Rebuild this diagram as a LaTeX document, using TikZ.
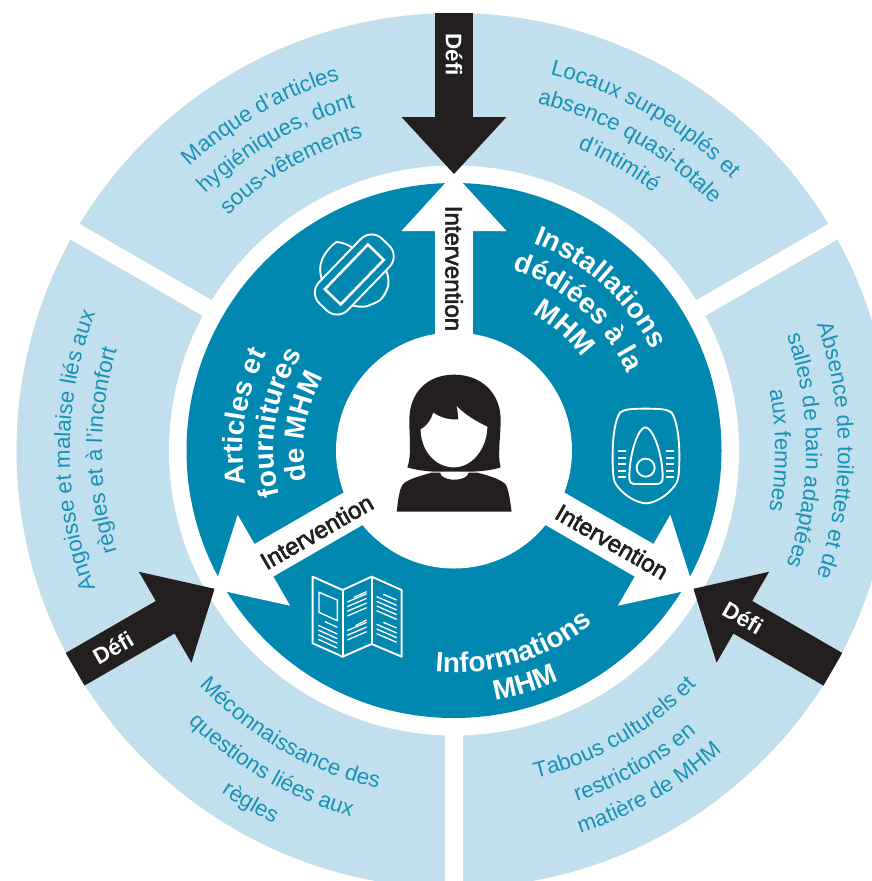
\documentclass[tikz,border=0pt]{standalone}
\usepackage{fontspec}
\setmainfont{Liberation Sans}
\newfontfamily\medfont[FakeBold=2.5]{Liberation Sans}
\usetikzlibrary{decorations.text}
\definecolor{lightring}{HTML}{C1DFEC}
\definecolor{tealb}{HTML}{0088B1}
\definecolor{inkb}{HTML}{231F20}
\newcommand\ringfont{\fontsize{22.3}{26}\selectfont\color{tealb!88!lightring}}
\newcommand\secfont{\fontsize{28}{32}\selectfont\bfseries\color{white}}
% clockwise text (tops outward): centre angle, radius, format, text
\newcommand\cwtext[4]{\path[shift={(C)},decorate,decoration={text along path,text align=center,text={|#3|#4}}] ({#1+80}:#2pt) arc[start angle={#1+80},end angle={#1-80},radius=#2pt];}
% counter-clockwise text (tops inward)
\newcommand\ccwtext[4]{\path[shift={(C)},decorate,decoration={text along path,text align=center,text={|#3|#4}}] ({#1-80}:#2pt) arc[start angle={#1-80},end angle={#1+80},radius=#2pt];}
\tikzset{
  darkarrow/.style={fill=inkb,draw=none},
  whitearrow/.style={fill=white,draw=none},
  gapband/.style={draw=white,line width=18pt},
  defilabel/.style={text=white,font=\fontsize{22.5}{26}\selectfont\bfseries,inner sep=0pt},
  intlabel/.style={text=inkb,font=\fontsize{24}{26}\selectfont\medfont,inner sep=0pt},
  iconline/.style={draw=white,line width=1.9pt,line join=round,line cap=round,fill=none},
  thinline/.style={draw=white,line width=1.3pt,line cap=butt},
}
\begin{document}
\begin{tikzpicture}[x=1pt,y=1pt]
\useasboundingbox (0,0) rectangle (872,-881);
\clip (0,0) rectangle (872,-881);
\coordinate (C) at (454,-450.5);
% rings
\fill[lightring] (C) circle[radius=437.5pt];
\foreach \a in {30,150,270} \draw[gapband] (C) -- ++(\a:460pt);
\fill[white] (C) circle[radius=285pt];
\fill[tealb] (C) circle[radius=267.5pt];
% white arrows
\foreach \a in {0,120,-120}
  \fill[whitearrow,shift={(C)},rotate=\a] (-18.8,100) -- (-18.8,219.5) -- (-52.5,219.5) -- (0,277) -- (52.5,219.5) -- (18.8,219.5) -- (18.8,100) -- cycle;
\fill[white] (C) circle[radius=118pt];
% dark arrows
\foreach \a in {0,120,-120}
  \fill[darkarrow,shift={(C)},rotate=\a] (-18.8,437.5) -- (-18.8,333.5) -- (-52.5,333.5) -- (0,276.5) -- (52.5,333.5) -- (18.8,333.5) -- (18.8,437.5) -- cycle;
% labels on arrows
\node[defilabel,rotate=-90] (d1) at (454,-54.5) {Défi};
\node[defilabel,rotate=30] (d2) at (113,-648) {Défi};
\node[defilabel,rotate=-30] (d3) at (743,-618) {Défi};
\node[intlabel,rotate=-90] (i1) at (454,-268.5) {Intervention};
\node[intlabel,rotate=30] (i2) at (316.7,-531.7) {Intervention};
\node[intlabel,rotate=-30] (i3) at (612,-541.7) {Intervention};
% ring texts
\cwtext{120}{388}{\ringfont}{Manque d'articles}
\cwtext{120}{357}{\ringfont}{hygiéniques, dont}
\cwtext{120}{326}{\ringfont}{sous-vêtements}
\cwtext{60}{388}{\ringfont}{Locaux surpeuplés et}
\cwtext{60}{357}{\ringfont}{absence quasi-totale}
\cwtext{60}{326}{\ringfont}{d'intimité}
\cwtext{0}{384}{\ringfont}{Absence de toilettes et de}
\cwtext{0}{352}{\ringfont}{salles de bain adaptées}
\cwtext{0}{321}{\ringfont}{aux femmes}
\cwtext{180}{384}{\ringfont}{Angoisse et malaise liés aux}
\cwtext{180}{352}{\ringfont}{règles et à l'inconfort}
\ccwtext{240}{346}{\ringfont}{Méconnaissance des}
\ccwtext{240}{380}{\ringfont}{questions liées aux}
\ccwtext{240}{414}{\ringfont}{règles}
\ccwtext{300}{338}{\ringfont}{Tabous culturels et}
\ccwtext{300}{372}{\ringfont}{restrictions en}
\ccwtext{300}{403}{\ringfont}{matière de MHM}
% sector titles
\cwtext{48}{222}{\secfont}{Installations}
\cwtext{48}{190}{\secfont}{dédiées à la}
\cwtext{48}{158}{\secfont}{MHM}
\cwtext{171}{211}{\secfont}{Articles et}
\cwtext{171}{180}{\secfont}{fournitures}
\cwtext{171}{150}{\secfont}{de MHM}
\ccwtext{287}{222}{\secfont}{Informations}
\ccwtext{287}{253}{\secfont}{MHM}
% pad icon
\begin{scope}[shift={(354.3,-274.5)},rotate=46]
  \draw[iconline,rounded corners=15pt] (-45,-20) rectangle (45,20);
  \draw[draw=white,line width=2.6pt,line join=miter] (-31,-11) rectangle (31,11);
  \draw[iconline] (-26,20) .. controls (-23,26) and (-18,31) .. (-12,33.4) .. controls (-6,36) and (4,37) .. (11,35.4) .. controls (14,32) and (17,26) .. (18,20);
  \draw[iconline] (25,-20) .. controls (22,-27) and (17,-32) .. (13,-33.4) .. controls (7,-36) and (3,-36.5) .. (-1,-36.3) .. controls (-6,-35) and (-10,-33) .. (-14.3,-31) .. controls (-18,-28) and (-21,-25) .. (-23.5,-20);
\end{scope}
% woman icon
\begin{scope}[shift={(370,-370)},x=0.3333pt,y=-0.3333pt]
  \fill[inkb] (112,292) .. controls (125,260) and (118,200) .. (118,150) .. controls (118,70) and (170,14) .. (252,14) .. controls (335,14) and (392,70) .. (392,150) .. controls (392,200) and (382,260) .. (392,292) .. controls (370,300) and (340,303) .. (310,305) -- (190,305) .. controls (165,303) and (135,300) .. (112,292) -- cycle;
  \fill[white] (152,178) .. controls (175,165) and (183,148) .. (190,128) .. controls (215,145) and (240,150) .. (265,148) .. controls (265,135) and (262,120) .. (260,108) .. controls (285,135) and (320,155) .. (352,170) .. controls (352,230) and (310,292) .. (252,292) .. controls (195,292) and (152,240) .. (152,178) -- cycle;
  \fill[inkb] (80,425) .. controls (85,385) and (88,360) .. (97,345) .. controls (110,328) and (150,318) .. (185,308) -- (210,308) .. controls (212,320) and (228,329) .. (252,329) .. controls (278,329) and (294,320) .. (296,308) -- (322,308) .. controls (360,318) and (398,330) .. (408,345) .. controls (416,360) and (420,390) .. (425,425) -- cycle;
\end{scope}
% toilet icon
\begin{scope}[shift={(530,-390)},x=0.3333pt,y=-0.3333pt]
  \draw[iconline] (347,56) .. controls (390,56) and (415,58) .. (425,68) .. controls (440,90) and (448,140) .. (448,195) .. controls (448,230) and (448,260) .. (440,278) .. controls (425,305) and (385,338) .. (348,340) .. controls (310,338) and (270,305) .. (255,278) .. controls (248,260) and (248,230) .. (248,195) .. controls (248,140) and (255,90) .. (270,68) .. controls (280,58) and (305,56) .. (347,56) -- cycle;
  \draw[iconline] (346,112) .. controls (325,112) and (298,190) .. (298,262) .. controls (298,278) and (305,282) .. (315,282) -- (380,282) .. controls (392,282) and (398,276) .. (398,262) .. controls (398,190) and (368,112) .. (346,112) -- cycle;
  \draw[iconline] (347,233) circle[radius=9pt];
  \foreach \y in {183,203,222,242,262} {
    \draw[thinline,line width=2pt] (263,\y) -- (287,\y);
    \draw[thinline,line width=2pt] (409,\y) -- (433,\y);
  }
\end{scope}
% leaflet icon
\begin{scope}[shift={(50,-480)},x=0.3333pt,y=-0.3333pt]
  \draw[iconline] (788,290) -- (878,330) -- (965,290) -- (1055,330) -- (1055,530) -- (965,492) -- (878,530) -- (788,490) -- cycle;
  \draw[iconline] (878,330) -- (878,530);
  \draw[iconline] (965,290) -- (965,492);
  \draw[iconline,line width=1.4pt] (807,337) -- (862,360) -- (862,422) -- (807,397) -- cycle;
  \draw[thinline] (825,425) -- (862,442);
  \foreach \y in {0,14,28,42} \draw[thinline] (805,{436+\y}) -- (862,{462+\y});
  \draw[thinline] (912,352) -- (950,335);
  \foreach \y in {0,14,28,42} \draw[thinline] (892,{366+\y}) -- (950,{341+\y});
  \draw[thinline] (917,437) -- (950,420);
  \foreach \y in {0,14,28} \draw[thinline] (892,{452+\y}) -- (950,{427+\y});
  \draw[thinline] (1000,343) -- (1040,360);
  \foreach \y in {0,14,28,42} \draw[thinline] (980,{350+\y}) -- (1040,{376+\y});
  \draw[thinline] (1000,427) -- (1040,444);
  \foreach \y in {0,14,28} \draw[thinline] (980,{433+\y}) -- (1040,{459+\y});
\end{scope}
\end{tikzpicture}
\end{document}
